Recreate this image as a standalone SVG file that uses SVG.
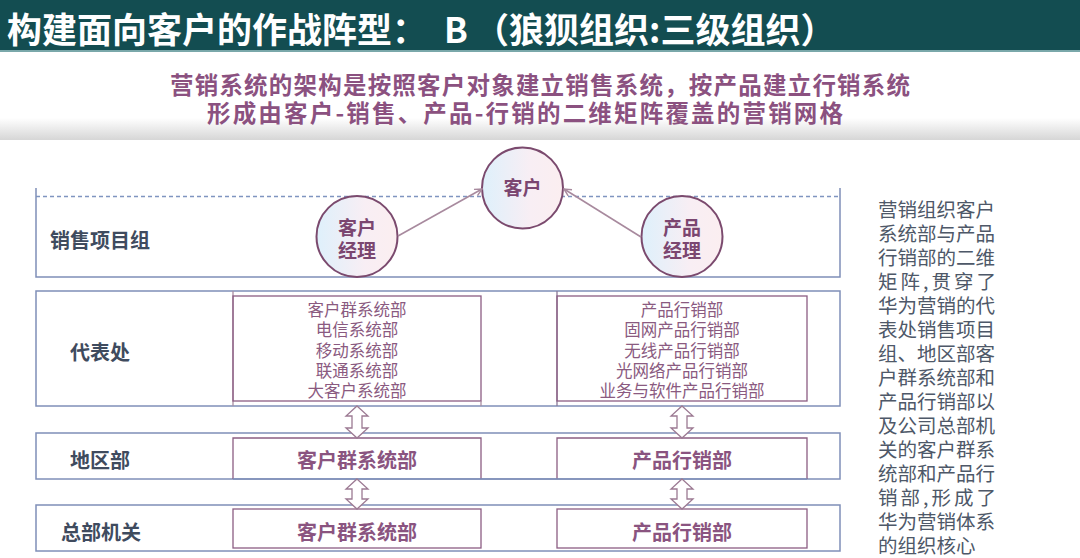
<svg xmlns="http://www.w3.org/2000/svg" width="1080" height="558" viewBox="0 0 1080 558">
<style>
text{font-family:"Noto Sans CJK SC","Liberation Sans",sans-serif}
.title{fill:#ffffff;font-size:35px;font-weight:bold}
.sub{fill:#8b5180;font-size:23.5px;font-weight:bold;text-anchor:middle}
.lab{fill:#3f4b5e;font-size:20px;font-weight:bold}
.outer{fill:none;stroke:#7f8fb8;stroke-width:1.5}
.inner{fill:none;stroke:#8c5d83;stroke-width:1.3}
.item{fill:#8a5a80;font-size:16.5px;text-anchor:middle}
.big{fill:#8a5480;font-size:20px;font-weight:bold;text-anchor:middle}
.circ{fill:url(#cg);stroke:#7b4a6e;stroke-width:2}
.ctext{fill:#7b4670;font-size:19px;font-weight:bold;text-anchor:middle}
.conn{stroke:#a88a9e;stroke-width:1.6;fill:none}
.dbl{fill:#ffffff;stroke:#9c7a93;stroke-width:1.3}
.side{fill:#4e5868;font-size:19.5px}
</style>
<defs>
<linearGradient id="cg" x1="0" y1="0" x2="1" y2="0">
<stop offset="0" stop-color="#def0fb"/>
<stop offset="0.6" stop-color="#f8eef4"/>
<stop offset="1" stop-color="#fbeef0"/>
</linearGradient>
<linearGradient id="sh" x1="0" y1="0" x2="0" y2="1">
<stop offset="0" stop-color="#ffffff"/>
<stop offset="1" stop-color="#d6d6d6"/>
</linearGradient>
<marker id="ah" viewBox="0 0 10 10" refX="9" refY="5" markerWidth="9" markerHeight="9" orient="auto" markerUnits="userSpaceOnUse">
<path d="M1,1 L9,5 L1,9" fill="none" stroke="#a88a9e" stroke-width="1.6"/>
</marker>
</defs>
<rect width="1080" height="558" fill="#ffffff"/>
<g id="header">
<rect x="0" y="0" width="1080" height="50" fill="#134d51"/>
<rect x="0" y="50" width="1080" height="2" fill="#7aa8aa"/>
<text class="title" x="7" y="43">构建面向客户的作战阵型：</text>
<text class="title" x="444" y="43">B</text>
<text class="title" x="474" y="43">（狼狈组织:三级组织）</text>
<rect x="0" y="118" width="1080" height="22" fill="url(#sh)"/>
<text class="sub" x="540" y="94" textLength="740" lengthAdjust="spacing">营销系统的架构是按照客户对象建立销售系统，按产品建立行销系统</text>
<text class="sub" x="525" y="122" textLength="636" lengthAdjust="spacing">形成由客户-销售、产品-行销的二维矩阵覆盖的营销网格</text>
</g>
<g id="row-sales">
<path class="outer" d="M36,188 V277 H840 V188"/>
<line x1="36" y1="196.5" x2="840" y2="196.5" stroke="#7f95c0" stroke-width="1.3" stroke-dasharray="4,3"/>
<text class="lab" x="50" y="248">销售项目组</text>
</g>
<g id="row-office">
<rect class="outer" x="36" y="291" width="804" height="115"/>
<line x1="233" y1="291" x2="233" y2="406" stroke="#a98ea3" stroke-width="1.3"/>
<rect class="inner" x="233" y="296" width="248" height="105"/>
<line x1="481" y1="401" x2="481" y2="406" stroke="#a98ea3" stroke-width="1.3"/>
<line x1="557" y1="291" x2="557" y2="406" stroke="#8c7a99" stroke-width="1.3"/>
<rect class="inner" x="557" y="296" width="250" height="105"/>
<text class="lab" x="70" y="360">代表处</text>
<text class="item" x="357" y="316">客户群系统部</text>
<text class="item" x="357" y="336">电信系统部</text>
<text class="item" x="357" y="357">移动系统部</text>
<text class="item" x="357" y="377">联通系统部</text>
<text class="item" x="357" y="397">大客户系统部</text>
<text class="item" x="682" y="316">产品行销部</text>
<text class="item" x="682" y="336">固网产品行销部</text>
<text class="item" x="682" y="357">无线产品行销部</text>
<text class="item" x="682" y="377">光网络产品行销部</text>
<text class="item" x="682" y="397">业务与软件产品行销部</text>
</g>
<g id="row-region">
<rect class="outer" x="36" y="433" width="804" height="46"/>
<path class="inner" d="M233,479 V438 H481 V479"/>
<path class="inner" d="M557,479 V438 H807 V479"/>
<line x1="233" y1="479" x2="807" y2="479" stroke="#7f8fb8" stroke-width="1.5"/>
<text class="lab" x="70" y="468">地区部</text>
<text class="big" x="357" y="468">客户群系统部</text>
<text class="big" x="682" y="468">产品行销部</text>
</g>
<g id="row-hq">
<rect class="outer" x="36" y="505" width="804" height="46"/>
<rect class="inner" x="233" y="509" width="248" height="39"/>
<rect class="inner" x="557" y="509" width="250" height="39"/>
<text class="lab" x="61" y="540">总部机关</text>
<text class="big" x="357" y="540">客户群系统部</text>
<text class="big" x="682" y="540">产品行销部</text>
</g>
<g id="node-customer">
<circle class="circ" cx="522.5" cy="188" r="40.5"/>
<text class="ctext" x="522.5" y="195">客户</text>
</g>
<g id="node-am">
<circle class="circ" cx="357" cy="236.5" r="40.5"/>
<text class="ctext" x="357" y="235">客户</text>
<text class="ctext" x="357" y="258">经理</text>
</g>
<g id="node-pm">
<circle class="circ" cx="682" cy="236.5" r="40.5"/>
<text class="ctext" x="682" y="235">产品</text>
<text class="ctext" x="682" y="258">经理</text>
</g>
<g id="connectors">
<line class="conn" x1="398" y1="236" x2="482" y2="189" marker-end="url(#ah)"/>
<line class="conn" x1="641" y1="237" x2="564" y2="189" marker-end="url(#ah)"/>
<path class="dbl" d="M357,406 L368,416 L362,416 L362,428 L368,428 L357,438 L346,428 L352,428 L352,416 L346,416 Z"/>
<path class="dbl" d="M682,406 L693,416 L687,416 L687,428 L693,428 L682,438 L671,428 L677,428 L677,416 L671,416 Z"/>
<path class="dbl" d="M357,479 L368,489 L362,489 L362,499 L368,499 L357,509 L346,499 L352,499 L352,489 L346,489 Z"/>
<path class="dbl" d="M682,479 L693,489 L687,489 L687,499 L693,499 L682,509 L671,499 L677,499 L677,489 L671,489 Z"/>
</g>
<g id="side-note">
<text class="side" x="878" y="217">营销组织客户</text>
<text class="side" x="878" y="241">系统部与产品</text>
<text class="side" x="878" y="265">行销部的二维</text>
<text class="side" x="878" y="289" textLength="118" lengthAdjust="spacing">矩阵,贯穿了</text>
<text class="side" x="878" y="313">华为营销的代</text>
<text class="side" x="878" y="337">表处销售项目</text>
<text class="side" x="878" y="361">组、地区部客</text>
<text class="side" x="878" y="385">户群系统部和</text>
<text class="side" x="878" y="409">产品行销部以</text>
<text class="side" x="878" y="433">及公司总部机</text>
<text class="side" x="878" y="457">关的客户群系</text>
<text class="side" x="878" y="481">统部和产品行</text>
<text class="side" x="878" y="505" textLength="118" lengthAdjust="spacing">销部,形成了</text>
<text class="side" x="878" y="529">华为营销体系</text>
<text class="side" x="878" y="553">的组织核心</text>
</g>
</svg>
